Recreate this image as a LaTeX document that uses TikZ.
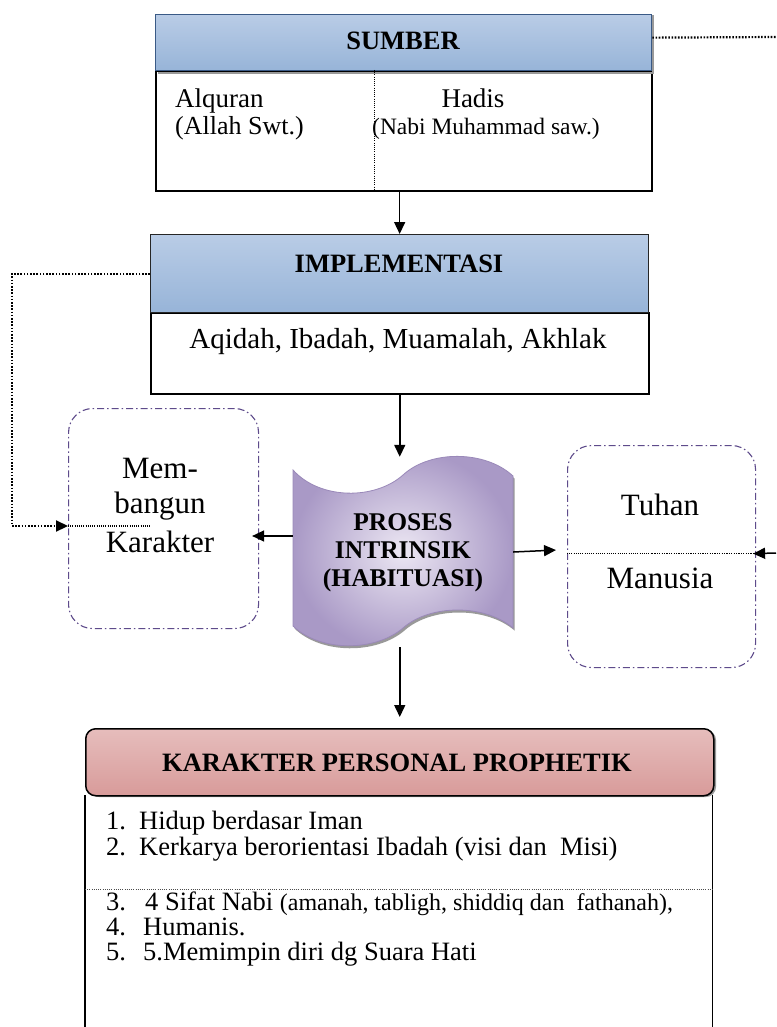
\documentclass[tikz,border=0pt]{standalone}
\usepackage{fontspec}
\setmainfont{Liberation Serif}
\usetikzlibrary{arrows.meta,calc}
\definecolor{hbTop}{HTML}{B9CCE6}
\definecolor{hbMid}{HTML}{DEE7F2}
\definecolor{hbBot}{HTML}{97B4D8}
\definecolor{hbLine}{HTML}{3A5A86}
\definecolor{pkTop}{HTML}{E6BDBC}
\definecolor{pkMid}{HTML}{F3E0E0}
\definecolor{pkBot}{HTML}{D89B9A}
\definecolor{dashc}{HTML}{5E4B8B}
\definecolor{prIn}{HTML}{ECE7F3}
\definecolor{prOut}{HTML}{A999C6}
\definecolor{prLine}{HTML}{9A89B9}
\newcommand{\fs}[1]{\fontsize{#1}{#1}\selectfont}
\begin{document}
\begin{tikzpicture}[x=1pt,y=-1pt,
  hdrblue/.style={draw=black!85, line width=1.3pt, top color=hbTop, middle color=hbMid, bottom color=hbBot, anchor=north west, inner sep=0pt},
  hdrpink/.style={draw=black, line width=1.5pt, rounded corners=10pt, top color=pkTop, middle color=pkMid, bottom color=pkBot, anchor=north west, inner sep=0pt},
  bodybox/.style={draw=black, line width=1.5pt, anchor=north west, inner sep=0pt},
  dashbox/.style={draw=dashc, line width=1.1pt, rounded corners=24pt, dash pattern=on 7pt off 3pt on 1.5pt off 3pt, anchor=north west, inner sep=0pt},
  arr/.style={line width=1.5pt, -{Triangle[length=12pt,width=11pt]}},
  dotl/.style={line width=2.2pt, dash pattern=on 1.6pt off 1.6pt},
  fined/.style={line width=0.9pt, dash pattern=on 1pt off 1.2pt},
  txt/.style={inner sep=0pt, anchor=base},
  txtw/.style={inner sep=0pt, anchor=base west},
  hb/.style={font=\fs{26.5}\bfseries},
  big/.style={font=\fs{31}},
  lst/.style={font=\fs{26.5}},
  shad/.style={fill=black!40}
]
\useasboundingbox (0,0) rectangle (776,1027);
\fill[white] (0,0) rectangle (776,1027);

% SUMBER
\node[bodybox, minimum width=496pt, minimum height=120pt] (sb) at (155,70) {};
\fill[shad] ([xshift=2.5pt,yshift=-1pt]sb.north west |- 0,14) rectangle (654,74);
\node[hdrblue, draw=hbLine, minimum width=496pt, minimum height=56pt] (sh) at (155,14) {};
\draw[black, line width=1.5pt] (sh.south west) -- (sh.south east);
\node[txt, hb] (sht) at (403,50) {SUMBER};
\node[txtw, font=\fs{27}] (alq) at (175,108) {Alquran};
\node[txtw, font=\fs{26}] (alla) at (175,135) {(Allah Swt.)};
\node[txt, font=\fs{27}] (had) at (473,108) {Hadis};
\node[txtw, font=\fs{23.5}] (nabi) at (372,135) {(Nabi Muhammad saw.)};
\draw[fined] ([xshift=219pt]sb.north west) -- ([xshift=219pt]sb.south west);

% IMPLEMENTASI
\node[bodybox, minimum width=498pt, minimum height=81pt] (ib) at (150,312) {};
\node[hdrblue, minimum width=498pt, minimum height=78pt] (ih) at (150,234) {};
\node[txt, hb] (iht) at (399,272) {IMPLEMENTASI};
\node[txt, font=\fs{29}] (ibt) at (398,348) {Aqidah, Ibadah, Muamalah, Akhlak};
\draw[arr] (ih.north |- sb.south) -- (ih.north);

% Membangun Karakter
\node[dashbox, minimum width=190pt, minimum height=220pt] (memb) at (68,408) {};
\node[txt, big] (m1) at (160,478) {Mem-};
\node[txt, big] (m2) at (160,513) {bangun};
\node[txt, big] (m3) at (160,552) {Karakter};

% Tuhan / Manusia
\node[dashbox, minimum width=188pt, minimum height=222pt] (tm) at (567,445) {};
\node[txt, big] (tu) at (660,515) {Tuhan};
\node[txt, big] (ma) at (660,588) {Manusia};

% PROSES shape
\node[minimum width=220pt, minimum height=190pt, inner sep=0pt] (proc) at (403,552) {};
\fill[black!40, shift={(1.5,2.5)}] (293,470) .. controls (320,500) and (375,500) .. (403,475)
  .. controls (430,450) and (485,450) .. (513,476) -- (513,628)
  .. controls (485,604) and (430,604) .. (403,628)
  .. controls (375,652) and (320,652) .. (293,626) -- cycle;
\draw[prLine, line width=0.8pt, inner color=prIn, outer color=prOut] (293,470) .. controls (320,500) and (375,500) .. (403,475)
  .. controls (430,450) and (485,450) .. (513,476) -- (513,628)
  .. controls (485,604) and (430,604) .. (403,628)
  .. controls (375,652) and (320,652) .. (293,626) -- cycle;
\node[txt, font=\fs{25.5}\bfseries] (p1) at (403,530) {PROSES};
\node[txt, font=\fs{25.5}\bfseries] (p2) at (403,558) {INTRINSIK};
\node[txt, font=\fs{25.5}\bfseries] (p3) at (403,586) {(HABITUASI)};

% arrows around PROSES
\draw[arr] (ib.south) -- (ib.south |- proc.north);
\draw[arr, shorten >=-7pt] ([yshift=16pt]proc.west) -- ([yshift=16pt]proc.west -| memb.east);
\draw[arr, shorten >=11pt] (proc.east) -- ([yshift=7pt]tm.west);

% dotted connectors
\coordinate (trc) at (776,37);
\draw[dotl] ([yshift=5pt]sh.east) -- (trc);
\coordinate (lc) at (12,526);
\coordinate (ld) at (150,526);
\draw[dotl, -{Triangle[length=12pt,width=11pt]}] (ih.west) -| (lc) -- (lc -| memb.west);
\draw[fined, line width=1.3pt] (lc -| memb.west) -- (ld);
\draw[fined] ([yshift=3pt]tm.west) -- ([xshift=85pt,yshift=3pt]tm.west);
\draw[line width=1.8pt, dash pattern=on 1.2pt off 1.2pt] ([xshift=85pt,yshift=3pt]tm.west) -- ([yshift=3pt]tm.east);
\coordinate (rin) at (776,553);
\draw[arr, shorten >=-3pt] (rin) -- ([yshift=3pt]tm.east);

% KARAKTER
\node[anchor=north west, minimum width=627pt, minimum height=260pt, inner sep=0pt] (kb) at (85,795) {};
\draw[line width=1.5pt] (kb.north east) -- (kb.south east);
\draw[line width=1.5pt] (kb.north west) -- (kb.south west);
\fill[shad, rounded corners=10pt] (89,730) rectangle (716,797);
\node[hdrpink, minimum width=628pt, minimum height=67pt] (kh) at (85,728) {};
\node[txt, hb] (kht) at (397,771) {KARAKTER PERSONAL PROPHETIK};
\draw[arr, shorten >=11pt] (kh.north |- proc.south) -- (kh.north);
\draw[fined, black!70] ([yshift=-94pt]kb.north west) -- ([yshift=-94pt]kb.north east);

\node[txtw, lst] (n1) at (106,829) {1.};
\node[txtw, lst] (l1) at (139,829) {Hidup berdasar Iman};
\node[txtw, lst] (n2) at (106,855) {2.};
\node[txtw, lst] (l2) at (139,855) {Kerkarya berorientasi Ibadah (visi dan\ \ Misi)};
\node[txtw, lst] (n3) at (106,910) {3.};
\node[txtw, lst] (l3) at (145,910) {4 Sifat Nabi {\fs{24}(amanah, tabligh, shiddiq dan\ \ fathanah),}};
\node[txtw, lst] (n4) at (106,935) {4.};
\node[txtw, lst] (l4) at (143,935) {Humanis.};
\node[txtw, lst] (n5) at (106,960) {5.};
\node[txtw, lst] (l5) at (143,960) {5.Memimpin diri dg Suara Hati};
\end{tikzpicture}
\end{document}
